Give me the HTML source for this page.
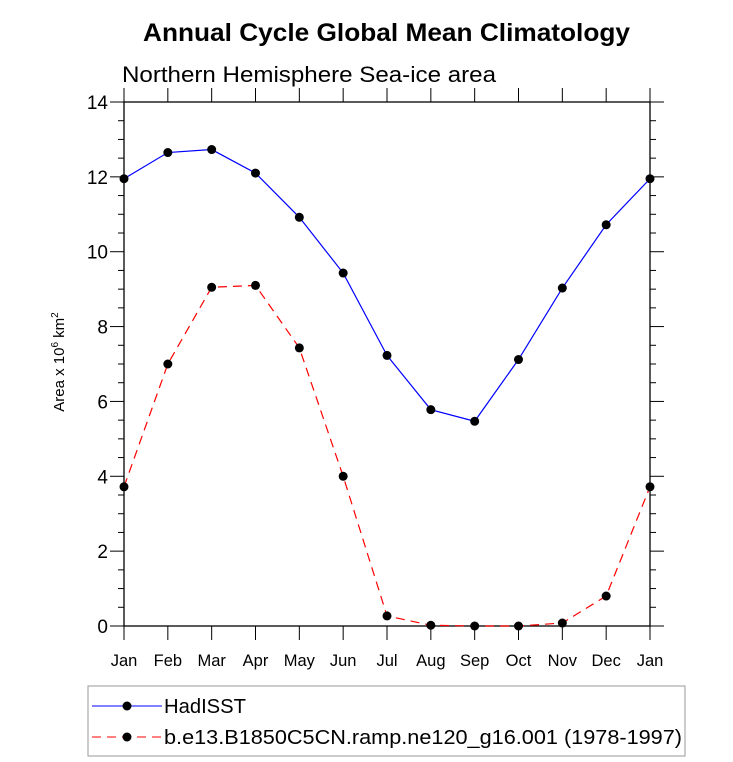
<!DOCTYPE html>
<html><head><meta charset="utf-8"><style>body{margin:0;background:#fff}svg{display:block;font-family:"Liberation Sans",Arial,sans-serif}</style></head>
<body>
<svg id="c" width="733" height="762">
<text x="143" y="41" font-size="25" font-weight="bold" textLength="487" lengthAdjust="spacingAndGlyphs">Annual Cycle Global Mean Climatology</text>
<text x="122" y="82" font-size="22" textLength="374" lengthAdjust="spacingAndGlyphs">Northern Hemisphere Sea-ice area</text>
<text transform="translate(64,362) rotate(-90)" text-anchor="middle" font-size="15">Area x 10<tspan dy="-6" font-size="10">6</tspan><tspan dy="6"> km</tspan><tspan dy="-6" font-size="10">2</tspan></text>
<g id="g"></g>
<rect x="88" y="686" width="597" height="70" fill="none" stroke="#999"/>
<g><line x1="92" y1="706" x2="162" y2="706" stroke="#00f"/><circle cx="127" cy="706" r="4.5"/><text x="164" y="713" font-size="20" textLength="82" lengthAdjust="spacingAndGlyphs">HadISST</text></g>
<g><line x1="92" y1="737" x2="162" y2="737" stroke="#f00" stroke-dasharray="9,6"/><circle cx="127" cy="737" r="4.5"/><text x="164" y="744" font-size="20" textLength="518" lengthAdjust="spacingAndGlyphs">b.e13.B1850C5CN.ramp.ne120_g16.001 (1978-1997)</text></g>
</svg>
<script>
const months=["Jan","Feb","Mar","Apr","May","Jun","Jul","Aug","Sep","Oct","Nov","Dec","Jan"];
const hadisst=[11.95,12.65,12.73,12.1,10.92,9.43,7.23,5.78,5.47,7.12,9.03,10.72,11.95];
const model=[3.72,7.0,9.05,9.1,7.43,4.0,0.27,0.02,0.0,0.0,0.08,0.8,3.72];
const yTicks=[0,2,4,6,8,10,12,14];
const L=124,R=650,T=102,B=626,NS="http://www.w3.org/2000/svg";
const xs=i=>L+i*(R-L)/12, ys=v=>B-(v/14)*(B-T);
const g=document.getElementById('g');
function el(t,a,p){const e=document.createElementNS(NS,t);for(const k in a)e.setAttribute(k,a[k]);(p||g).appendChild(e);return e;}
let f=el('rect',{x:L,y:T,width:R-L,height:B-T,fill:'none',stroke:'#000','stroke-width':1.3});


for(let i=0;i<=28;i++){const v=i*0.5,y=ys(v),len=i%4==0?14:6;
el('line',{x1:L-len,y1:y,x2:L,y2:y,stroke:'#000'});el('line',{x1:R,y1:y,x2:R+len,y2:y,stroke:'#000'});}
yTicks.forEach(v=>{const t=el('text',{x:L-16,y:ys(v)+7,'text-anchor':'end','font-size':19});t.textContent=v;

});
months.forEach((m,i)=>{const x=xs(i);el('line',{x1:x,y1:B,x2:x,y2:B+14,stroke:'#000'});el('line',{x1:x,y1:T,x2:x,y2:T-14,stroke:'#000'});
const t=el('text',{x:x,y:666,'text-anchor':'middle','font-size':16.5});t.textContent=m;

});
function series(d,col,dash,name){const p=el('polyline',{points:d.map((v,i)=>xs(i)+','+ys(v)).join(' '),fill:'none',stroke:col,'stroke-width':1.2,'stroke-dasharray':dash});


d.forEach((v,i)=>{const c=el('circle',{cx:xs(i),cy:ys(v),r:4.5,fill:'#000'});

});}
series(hadisst,'#00f','none','hadisst');
series(model,'#f00','9,6','model');
</script>
</body></html>
